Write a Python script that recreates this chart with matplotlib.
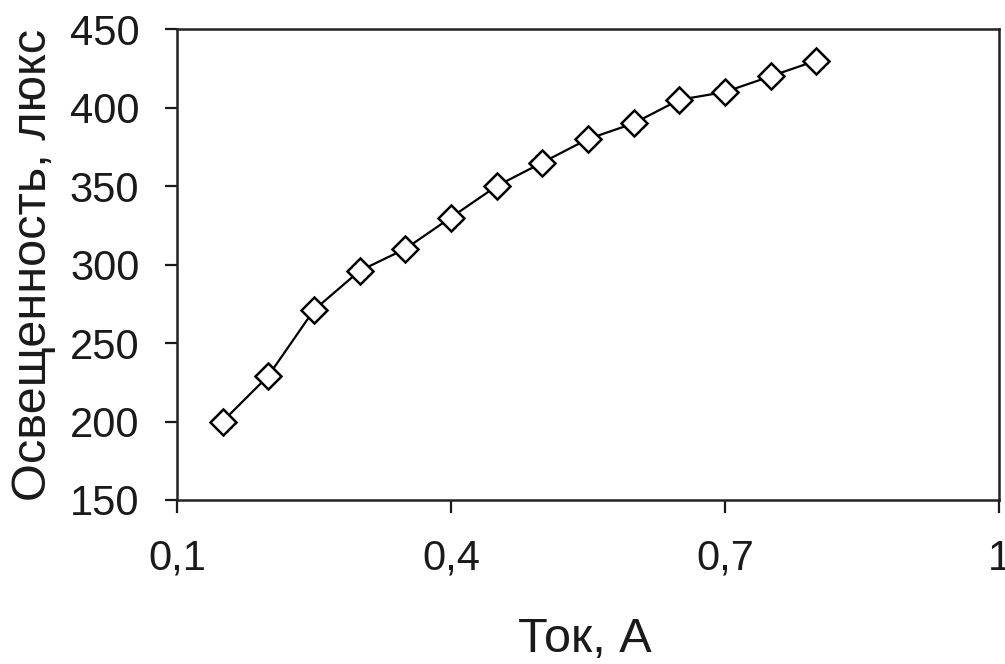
import matplotlib
matplotlib.use("Agg")
import matplotlib.pyplot as plt

# Данные: ток (А) и освещенность (люкс)
current = [0.15, 0.2, 0.25, 0.3, 0.35, 0.4, 0.45, 0.5, 0.55, 0.6, 0.65, 0.7, 0.75, 0.8]
illum = [200, 229, 271, 296, 310, 330, 350, 365, 380, 390, 405, 410, 420, 430]

x_ticks = [0.1, 0.4, 0.7, 1.0]
x_tick_labels = ["0,1", "0,4", "0,7", "1"]
y_ticks = [150, 200, 250, 300, 350, 400, 450]

plt.rcParams["font.family"] = ["Liberation Sans", "DejaVu Sans"]

fig = plt.figure(figsize=(10.05, 6.64), dpi=100)
ax = fig.add_axes([0.176, 0.247, 0.818, 0.709])

ax.plot(current, illum, color="black", linewidth=1.6, marker="D", markersize=13,
        markerfacecolor="white", markeredgecolor="black", markeredgewidth=1.8)

ax.set_xlim(0.1, 1.0)
ax.set_ylim(150, 450)
ax.set_xticks(x_ticks)
ax.set_xticklabels(x_tick_labels)
ax.set_yticks(y_ticks)

ax.tick_params(axis="both", direction="out", length=9, width=1.6, labelsize=30, colors="#1a1a1a")
ax.tick_params(axis="x", pad=19)
ax.tick_params(axis="y", pad=18)
for s in ax.spines.values():
    s.set_linewidth(1.8)
    s.set_color("#222222")

ax.set_xlabel("Ток, А", fontsize=35, color="#1a1a1a")
ax.set_ylabel("Освещенность, люкс", fontsize=35, color="#1a1a1a")
ax.xaxis.set_label_coords(0.496, -0.297)
ax.yaxis.set_label_coords(-0.175, 0.5)
ax.xaxis.label.set_va("center")
ax.yaxis.label.set_va("center")

fig.savefig("out.png", dpi=100)
